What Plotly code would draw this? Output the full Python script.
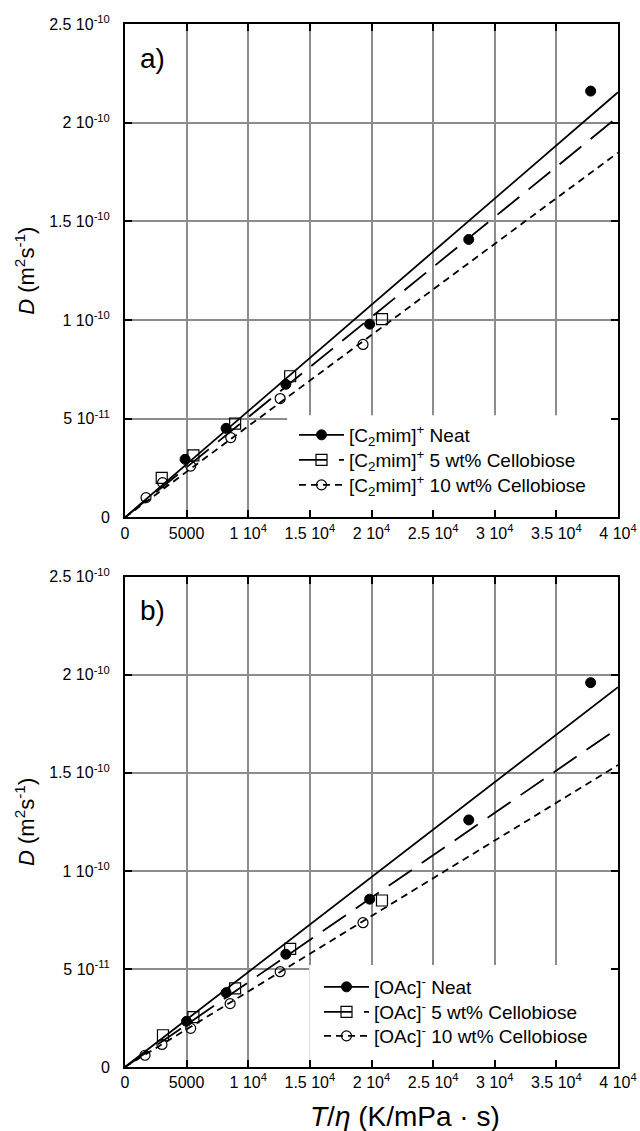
import plotly.graph_objects as go

# ---- data (panel a: [C2mim]+, panel b: [OAc]-) ----
a_neat_x = [4874, 8200, 13050, 19850, 27890, 37780]
a_neat_y = [2.94e-11, 4.51e-11, 6.74e-11, 9.79e-11, 1.408e-10, 2.16e-10]
a_5_x = [2980, 5550, 8935, 13400, 20850]
a_5_y = [2.0e-11, 3.14e-11, 4.75e-11, 7.15e-11, 1.004e-10]
a_10_x = [1706, 3050, 5330, 8580, 12590, 19310]
a_10_y = [1.0e-11, 1.76e-11, 2.6e-11, 4.04e-11, 6.02e-11, 8.76e-11]

b_neat_x = [4990, 8200, 13050, 19850, 27890, 37780]
b_neat_y = [2.33e-11, 3.79e-11, 5.75e-11, 8.56e-11, 1.26e-10, 1.96e-10]
b_5_x = [3080, 5550, 8935, 13400, 20850]
b_5_y = [1.62e-11, 2.54e-11, 4.01e-11, 6.02e-11, 8.49e-11]
b_10_x = [1625, 3000, 5330, 8530, 12590, 19310]
b_10_y = [0.6e-11, 1.15e-11, 1.97e-11, 3.23e-11, 4.86e-11, 7.36e-11]

# fitted slopes (D = k * T/eta)
a_slopes = [5.385e-15, 5.075e-15, 4.62e-15]
b_slopes = [4.843e-15, 4.32e-15, 3.85e-15]

x_range = [0, 40000]
y_range = [0, 2.5e-10]
x_ticks = [0, 5000, 10000, 15000, 20000, 25000, 30000, 35000, 40000]
x_ticktext = ["0", "5000", "1 10<sup>4</sup>", "1.5 10<sup>4</sup>", "2 10<sup>4</sup>",
              "2.5 10<sup>4</sup>", "3 10<sup>4</sup>", "3.5 10<sup>4</sup>", "4 10<sup>4</sup>"]
y_ticks = [0, 5e-11, 1e-10, 1.5e-10, 2e-10, 2.5e-10]
y_ticktext = ["0", "5 10<sup>-11</sup>", "1 10<sup>-10</sup>", "1.5 10<sup>-10</sup>",
              "2 10<sup>-10</sup>", "2.5 10<sup>-10</sup>"]

a_names = ["[C<sub>2</sub>mim]<sup>+</sup> Neat", "[C<sub>2</sub>mim]<sup>+</sup> 5 wt% Cellobiose",
           "[C<sub>2</sub>mim]<sup>+</sup> 10 wt% Cellobiose"]
b_names = ["[OAc]<sup>-</sup> Neat", "[OAc]<sup>-</sup> 5 wt% Cellobiose",
           "[OAc]<sup>-</sup> 10 wt% Cellobiose"]

FONT = "Liberation Sans, Arial, sans-serif"
dashes = ["solid", "28px,12px", "7px,5px"]
markers = [dict(symbol="circle", size=10, color="black", line=dict(color="black", width=1)),
           dict(symbol="square-open", size=11, color="black", line=dict(width=1.2)),
           dict(symbol="circle-open", size=10, color="black", line=dict(width=1.2))]

# figure geometry (pixels)
W, H = 640, 1131
ML, MR, MT, MB = 125, 22, 24, 64
PW, PH = W - ML - MR, H - MT - MB

def px_x(p):
    return (p - ML) / PW

def px_y(p):
    return (H - MB - p) / PH

fig = go.Figure()

def add_panel(xs, ys, slopes, names, xa, ya, legends):
    for i in range(3):
        fig.add_trace(go.Scatter(x=x_range, y=[slopes[i] * v for v in x_range], mode="lines",
                                 line=dict(color="black", width=1.8, dash=dashes[i]),
                                 showlegend=False, xaxis=xa, yaxis=ya, hoverinfo="skip"))
    for i in range(3):
        fig.add_trace(go.Scatter(x=xs[i], y=ys[i], mode="markers", marker=markers[i],
                                 showlegend=False, xaxis=xa, yaxis=ya))
    for i in range(3):
        fig.add_trace(go.Scatter(x=[None], y=[None], mode="lines+markers", name=names[i],
                                 line=dict(color="black", width=1.8, dash=dashes[i]),
                                 marker=markers[i], xaxis=xa, yaxis=ya, legend=legends[i]))

add_panel([a_neat_x, a_5_x, a_10_x], [a_neat_y, a_5_y, a_10_y], a_slopes, a_names, "x", "y",
          ["legend", "legend2", "legend3"])
add_panel([b_neat_x, b_5_x, b_10_x], [b_neat_y, b_5_y, b_10_y], b_slopes, b_names, "x2", "y2",
          ["legend4", "legend5", "legend6"])

axis_common = dict(showline=True, linecolor="black", linewidth=2, mirror="ticks",
                   ticks="inside", ticklen=7, tickwidth=1.5, tickcolor="black",
                   showgrid=True, gridcolor="#8c8c8c", gridwidth=1.5, zeroline=False,
                   automargin=False,
                   tickfont=dict(family=FONT, size=16, color="black"))

ytitle = dict(text="<i>D</i> (m<sup>2</sup>s<sup>-1</sup>)", font=dict(family=FONT, size=22, color="black"),
              standoff=8)

def leg(xp, yp):
    return dict(x=px_x(xp), y=px_y(yp), xanchor="left", yanchor="middle", bgcolor="rgba(0,0,0,0)",
                font=dict(family=FONT, size=19, color="black"), itemwidth=45, tracegroupgap=0,
                borderwidth=0)

legend_rows_a = [435, 460, 485]
legend_rows_b = [987, 1012, 1036]

fig.update_layout(
    width=W, height=H,
    margin=dict(l=ML, r=MR, t=MT, b=MB),
    plot_bgcolor="white", paper_bgcolor="white",
    xaxis=dict(axis_common, domain=[0, 1], anchor="y", range=x_range, tickmode="array",
               tickvals=x_ticks, ticktext=x_ticktext),
    yaxis=dict(axis_common, domain=[0.527, 1], anchor="x", range=y_range, tickmode="array",
               tickvals=y_ticks, ticktext=y_ticktext, title=ytitle, ticklabelstandoff=10),
    xaxis2=dict(axis_common, domain=[0, 1], anchor="y2", range=x_range, tickmode="array",
                tickvals=x_ticks, ticktext=x_ticktext),
    yaxis2=dict(axis_common, domain=[0, 0.47], anchor="x2", range=y_range, tickmode="array",
                tickvals=y_ticks, ticktext=y_ticktext, title=ytitle, ticklabelstandoff=10),
    legend=leg(294, legend_rows_a[0]),
    legend2=leg(294, legend_rows_a[1]),
    legend3=leg(294, legend_rows_a[2]),
    legend4=leg(319, legend_rows_b[0]),
    legend5=leg(319, legend_rows_b[1]),
    legend6=leg(319, legend_rows_b[2]),
    shapes=[
        dict(type="rect", xref="x", yref="y", x0=13160, x1=40000, y0=0, y1=5.17e-11,
             fillcolor="white", line=dict(width=0), layer="between"),
        dict(type="rect", xref="x2", yref="y2", x0=14950, x1=40000, y0=0, y1=5.2e-11,
             fillcolor="white", line=dict(width=0), layer="between"),
    ],
    annotations=[
        dict(text="a)", xref="paper", yref="paper", x=px_x(138), y=px_y(58), xanchor="left",
             yanchor="middle", showarrow=False, font=dict(family=FONT, size=28, color="black")),
        dict(text="b)", xref="paper", yref="paper", x=px_x(138), y=px_y(610), xanchor="left",
             yanchor="middle", showarrow=False, font=dict(family=FONT, size=28, color="black")),
        dict(text="<i>T</i>/<i>η</i> (K/mPa · s)", xref="paper", yref="paper", x=px_x(405),
             y=px_y(1116), xanchor="center", yanchor="middle", showarrow=False,
             font=dict(family=FONT, size=28, color="black")),
    ],
    showlegend=True,
)

fig.write_html("out.html")
